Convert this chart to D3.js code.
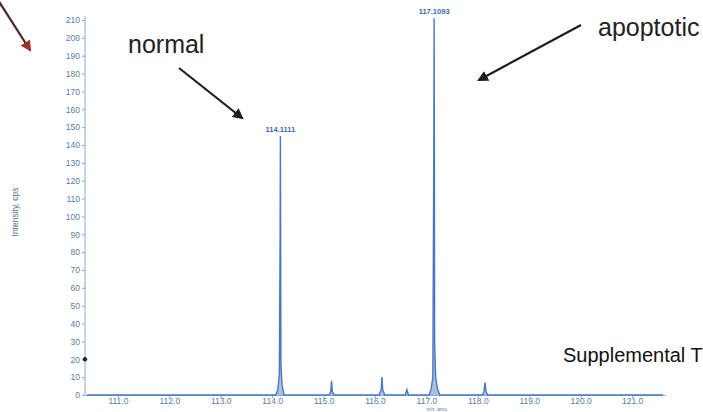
<!DOCTYPE html>
<html>
<head>
<meta charset="utf-8">
<script src="https://cdn.jsdelivr.net/npm/d3@7/dist/d3.min.js"></script>
<style>
  body { margin: 0; background: #fff; }
  svg { display: block; font-family: "Liberation Sans", Arial, sans-serif; }
</style>
</head>
<body>
<div id="spectrum"></div>
<script>
// values
const xTicks = [111, 112, 113, 114, 115, 116, 117, 118, 119, 120, 121];
const yTicks = [0, 10, 20, 30, 40, 50, 60, 70, 80, 90, 100, 110, 120, 130, 140, 150, 160, 170, 180, 190, 200, 210];

// spectrum trace (m/z, intensity)
const mz = [110.40, 114.07, 114.11, 114.14, 114.155, 114.16, 114.165, 114.17, 114.19, 114.23,
            115.11, 115.14, 115.155, 115.17, 115.20,
            116.08, 116.12, 116.135, 116.15, 116.19,
            116.59, 116.62, 116.65,
            117.05, 117.09, 117.125, 117.145, 117.15, 117.155, 117.16, 117.18, 117.21, 117.26,
            118.09, 118.12, 118.14, 118.16, 118.19, 121.60];
const intensity = [0, 0, 3, 12, 90, 145, 90, 18, 6, 0,
                   0, 2, 8, 2, 0,
                   0, 3, 10, 3, 0,
                   0, 3, 0,
                   0, 3, 10, 150, 211, 140, 30, 10, 4, 0,
                   0, 2, 7, 2, 0, 0];

const peakLabels = ["114.1111", "117.1093"];
const peakMz = [114.16, 117.15];
const peakInt = [145, 211];

const width = 703;
const height = 412;

const svg = d3.select("#spectrum")
    .append("svg")
    .attr("width", width)
    .attr("height", height);

const x = d3.scaleLinear().domain([110.36, 121.64]).range([85, 665]);
const y = d3.scaleLinear().domain([0, 210]).range([395, 20]);

const axisColor = "#86aacb";
const textColor = "#5a7c9c";

// arrow heads
const defs = svg.append("defs");
defs.append("marker")
    .attr("id", "head")
    .attr("viewBox", "0 0 10 10")
    .attr("refX", 8).attr("refY", 5)
    .attr("markerWidth", 5).attr("markerHeight", 5)
    .attr("orient", "auto")
    .append("path")
    .attr("d", "M0,0 L10,5 L0,10 Z")
    .attr("fill", "#1d1d1d");
defs.append("marker")
    .attr("id", "headRed")
    .attr("viewBox", "0 0 10 10")
    .attr("refX", 8).attr("refY", 5)
    .attr("markerWidth", 5).attr("markerHeight", 5)
    .attr("orient", "auto")
    .append("path")
    .attr("d", "M0,0 L10,5 L0,10 Z")
    .attr("fill", "#9a3424");

// y axis
const yAxis = svg.append("g")
    .attr("transform", "translate(85,0)")
    .call(d3.axisLeft(y).tickValues(yTicks).tickSize(3).tickSizeOuter(0));
yAxis.select(".domain").attr("stroke", axisColor).attr("d", "M0," + (y(211) - 2) + "V" + y(0));
yAxis.selectAll(".tick line").attr("stroke", axisColor);
yAxis.selectAll(".tick text")
    .attr("fill", textColor)
    .attr("font-size", 8.5)
    .attr("x", -5);

// x axis
const xAxis = svg.append("g")
    .attr("transform", "translate(0," + y(0) + ")")
    .call(d3.axisBottom(x).tickValues(xTicks).tickSize(3).tickSizeOuter(0).tickFormat(d3.format(".1f")));
xAxis.select(".domain").attr("stroke", axisColor);
xAxis.selectAll(".tick line").attr("stroke", axisColor);
xAxis.selectAll(".tick text")
    .attr("fill", textColor)
    .attr("font-size", 8.5)
    .attr("dy", "0.35em");

// axis titles
svg.append("text")
    .attr("transform", "translate(18,212) rotate(-90)")
    .attr("text-anchor", "middle")
    .attr("fill", "#4d7191")
    .attr("font-size", 8.5)
    .text("Intensity, cps");
svg.append("text")
    .attr("x", x(117.2))
    .attr("y", 411)
    .attr("text-anchor", "middle")
    .attr("fill", textColor)
    .attr("font-size", 5)
    .text("m/z, amu");

// spectrum
const pts = mz.map((m, i) => [m, intensity[i]]);
svg.append("path")
    .datum(pts)
    .attr("fill", "#5a82c6")
    .attr("fill-opacity", 0.5)
    .attr("d", d3.area().x(d => x(d[0])).y0(y(0)).y1(d => y(d[1])));
svg.append("path")
    .datum(pts)
    .attr("fill", "none")
    .attr("stroke", "#4a78bf")
    .attr("stroke-width", 1.4)
    .attr("d", d3.line().x(d => x(d[0])).y(d => y(d[1])));

// peak labels
svg.selectAll(".plabel")
    .data(peakLabels)
    .enter()
    .append("text")
    .attr("class", "plabel")
    .attr("x", (d, i) => x(peakMz[i]))
    .attr("y", (d, i) => y(peakInt[i]) - 4)
    .attr("text-anchor", "middle")
    .attr("fill", "#3b6aa8")
    .attr("font-size", 7.5)
    .attr("font-weight", "bold")
    .text(d => d);

// marker dot on y axis
svg.append("circle")
    .attr("cx", 85)
    .attr("cy", y(20))
    .attr("r", 2.2)
    .attr("fill", "#1f2a38");

// annotations
svg.append("text")
    .attr("x", 128).attr("y", 53)
    .attr("font-size", 25)
    .attr("fill", "#222")
    .text("normal");
svg.append("line")
    .attr("x1", 179).attr("y1", 68)
    .attr("x2", 242).attr("y2", 118)
    .attr("stroke", "#1d1d1d")
    .attr("stroke-width", 2.2)
    .attr("marker-end", "url(#head)");

svg.append("text")
    .attr("x", 598).attr("y", 36)
    .attr("font-size", 25)
    .attr("fill", "#222")
    .text("apoptotic");
svg.append("line")
    .attr("x1", 581).attr("y1", 25)
    .attr("x2", 479).attr("y2", 80)
    .attr("stroke", "#1d1d1d")
    .attr("stroke-width", 2.2)
    .attr("marker-end", "url(#head)");

svg.append("line")
    .attr("x1", -2).attr("y1", 0)
    .attr("x2", 30).attr("y2", 50)
    .attr("stroke", "#4a2a24")
    .attr("stroke-width", 2.2)
    .attr("marker-end", "url(#headRed)");

svg.append("text")
    .attr("x", 563).attr("y", 362)
    .attr("font-size", 20)
    .attr("fill", "#111")
    .text("Supplemental T");
</script>
</body>
</html>
